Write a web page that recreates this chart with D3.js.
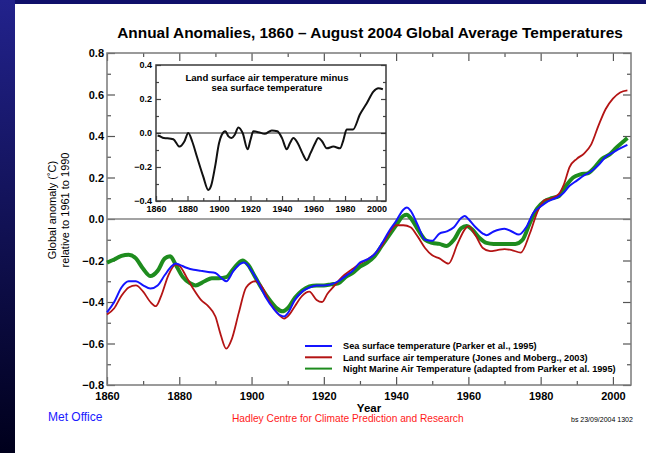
<!DOCTYPE html>
<html>
<head>
<meta charset="utf-8">
<script src="https://cdn.jsdelivr.net/npm/d3@7"></script>
<style>
body { margin: 0; background: #fff; }
svg { display: block; font-family: "Liberation Sans", Arial, sans-serif; }
</style>
</head>
<body>
<svg id="chart" width="646" height="453"></svg>
<script>
// Data ------------------------------------------------------------------------------------

// Sea surface temperature (Parker et al., 1995)
var sstYears = [1860, 1862, 1864, 1866, 1868, 1870, 1872, 1874, 1876, 1878, 1879, 1880, 1882, 1884, 1886, 1888,
    1890, 1892, 1893, 1895, 1897, 1898, 1900, 1902, 1904, 1906, 1908, 1909, 1910, 1912, 1914, 1916, 1918, 1920,
    1922, 1924, 1926, 1928, 1930, 1932, 1934, 1936, 1938, 1940, 1942, 1943, 1944, 1946, 1948, 1950, 1952, 1954,
    1956, 1958, 1959, 1960, 1962, 1964, 1965, 1967, 1970, 1972, 1974, 1976, 1978, 1980, 1982, 1984, 1986, 1988,
    1990, 1992, 1994, 1996, 1998, 2000, 2002, 2004];
var sstValues = [-0.45, -0.40, -0.33, -0.30, -0.30, -0.32, -0.335, -0.32, -0.27, -0.225, -0.215, -0.22, -0.235, -0.245, -0.25, -0.255,
    -0.26, -0.29, -0.30, -0.25, -0.215, -0.21, -0.25, -0.31, -0.38, -0.43, -0.465, -0.47, -0.455, -0.39, -0.35, -0.33, -0.32, -0.32,
    -0.315, -0.30, -0.275, -0.25, -0.21, -0.195, -0.17, -0.12, -0.06, -0.01, 0.045, 0.055, 0.04, -0.03, -0.10, -0.105, -0.07, -0.06,
    -0.04, 0.005, 0.015, 0.0, -0.04, -0.07, -0.078, -0.06, -0.047, -0.06, -0.075, -0.04, 0.03, 0.06, 0.085, 0.10, 0.12, 0.16,
    0.185, 0.21, 0.23, 0.26, 0.30, 0.32, 0.34, 0.357];

// Land surface air temperature (Jones and Moberg, 2003)
var landYears = [1860, 1862, 1864, 1866, 1868, 1870, 1872, 1873.5, 1875, 1877, 1879, 1880, 1882, 1884, 1886, 1888,
    1890, 1891.5, 1893, 1894.5, 1896.5, 1898.5, 1901, 1903, 1905, 1907, 1909, 1910.5, 1912, 1914, 1916, 1918,
    1919.5, 1921, 1923, 1925, 1928, 1930, 1932, 1934, 1936, 1938, 1940, 1942, 1944, 1946, 1948, 1950, 1952,
    1954.5, 1957, 1959, 1960, 1962, 1964, 1966, 1968, 1970, 1972, 1974.5, 1977, 1979, 1981, 1983, 1985, 1986.5,
    1988, 1990, 1992, 1994, 1996, 1998, 2000, 2002, 2004];
var landValues = [-0.46, -0.43, -0.37, -0.33, -0.32, -0.35, -0.40, -0.42, -0.37, -0.27, -0.22, -0.225, -0.28, -0.34, -0.39, -0.42,
    -0.47, -0.56, -0.625, -0.58, -0.45, -0.33, -0.30, -0.33, -0.40, -0.45, -0.48, -0.46, -0.42, -0.37, -0.35, -0.39,
    -0.40, -0.36, -0.32, -0.28, -0.24, -0.215, -0.195, -0.17, -0.13, -0.07, -0.03, -0.03, -0.04, -0.085, -0.14, -0.175, -0.19,
    -0.215, -0.12, -0.05, -0.034, -0.08, -0.14, -0.155, -0.15, -0.145, -0.15, -0.162, -0.07, 0.03, 0.09, 0.10, 0.12, 0.17,
    0.25, 0.29, 0.315, 0.36, 0.45, 0.53, 0.58, 0.61, 0.62];

// Night Marine Air Temperature (adapted from Parker et al. 1995)
var nmatYears = [1860, 1862, 1864, 1866, 1868, 1870, 1872, 1874, 1876, 1877.5, 1879, 1881, 1883, 1884.5, 1887, 1889,
    1891, 1893, 1895, 1897.5, 1899, 1901, 1903, 1905, 1907, 1908.5, 1910, 1912, 1914, 1916, 1918, 1920, 1922,
    1924, 1926, 1928, 1930, 1932, 1934, 1936, 1938, 1940, 1942, 1943, 1944, 1946, 1948, 1950, 1952, 1954, 1956,
    1958, 1959.5, 1961, 1963, 1965, 1967, 1969, 1971, 1973, 1975, 1977, 1979, 1981, 1983, 1985, 1987, 1989,
    1991, 1993, 1995, 1997, 1999, 2001, 2003, 2004];
var nmatValues = [-0.21, -0.195, -0.178, -0.172, -0.19, -0.24, -0.275, -0.25, -0.19, -0.18, -0.22, -0.28, -0.31, -0.32, -0.30, -0.285,
    -0.285, -0.28, -0.24, -0.20, -0.22, -0.28, -0.34, -0.39, -0.43, -0.445, -0.43, -0.38, -0.345, -0.325, -0.32, -0.32, -0.315,
    -0.31, -0.28, -0.26, -0.23, -0.21, -0.18, -0.13, -0.08, -0.03, 0.015, 0.02, 0.005, -0.05, -0.10, -0.115, -0.12, -0.13, -0.10,
    -0.045, -0.034, -0.05, -0.09, -0.115, -0.12, -0.12, -0.12, -0.12, -0.10, -0.02, 0.05, 0.085, 0.10, 0.11, 0.16, 0.20,
    0.215, 0.22, 0.25, 0.29, 0.31, 0.345, 0.375, 0.39];

// Inset: land surface air temperature minus sea surface temperature
var diffYears = [1861, 1862, 1865, 1867, 1871, 1875, 1878, 1880.5, 1883, 1886, 1890, 1893.2, 1895, 1897.5, 1900, 1901.7,
    1904, 1906, 1908, 1910, 1912.3, 1915, 1918.2, 1920, 1921.8, 1925, 1929, 1933.5, 1937, 1940, 1943, 1945, 1947.2,
    1950, 1953, 1955.7, 1958, 1961, 1963, 1965.5, 1968.4, 1972.6, 1976.8, 1979, 1981, 1985, 1989.5, 1993.8, 1998,
    2001.1, 2004];
var diffValues = [-0.015, -0.018, -0.03, -0.031, -0.037, -0.08, -0.05, 0.0, -0.05, -0.14, -0.257, -0.335, -0.31, -0.198, -0.06, -0.012,
    0.01, -0.02, -0.03, -0.01, 0.033, 0.0, -0.096, -0.04, 0.01, 0.005, -0.005, 0.015, 0.01, -0.03, -0.096, -0.06, -0.03,
    -0.06, -0.12, -0.16, -0.12, -0.06, -0.03, -0.05, -0.09, -0.08, -0.09, -0.04, 0.02, 0.02, 0.11, 0.175, 0.243,
    0.263, 0.257];

// Ticks
var mainYearTicks = [1860, 1880, 1900, 1920, 1940, 1960, 1980, 2000];
var mainYearMinor = [1870, 1890, 1910, 1930, 1950, 1970, 1990];
var mainValueTicks = [-0.8, -0.6, -0.4, -0.2, 0.0, 0.2, 0.4, 0.6, 0.8];
var mainValueMinor = [-0.7, -0.5, -0.3, -0.1, 0.1, 0.3, 0.5, 0.7];
var insetYearTicks = [1860, 1880, 1900, 1920, 1940, 1960, 1980, 2000];
var insetYearMinor = [1870, 1890, 1910, 1930, 1950, 1970, 1990];
var insetValueTicks = [-0.4, -0.2, 0.0, 0.2, 0.4];
var insetValueMinor = [-0.3, -0.1, 0.1, 0.3];

// Legend
var legendLabels = ["Sea surface temperature (Parker et al., 1995)",
    "Land surface air temperature (Jones and Moberg., 2003)",
    "Night Marine Air Temperature (adapted from Parker et al. 1995)"];
var legendColors = ["#1414ff", "#b41414", "#1e8c1e"];

// Main -----------------------------------------------------------------------------------

drawChart();

function drawChart() {
    var svg = d3.select("#chart");
    drawBackground(svg);
    drawMainPlot(svg);
    drawInset(svg);
    drawLegend(svg);
    drawTexts(svg);
}

function zip(years, values) {
    var pts = [];
    for (var i = 0; i < years.length; i++) {
        pts.push({ year: years[i], value: values[i] });
    }
    return pts;
}

// Background ------------------------------------------------------------------------------

function drawBackground(svg) {
    var defs = svg.append("defs");
    var grad = defs.append("linearGradient").attr("id", "sideGrad")
        .attr("x1", 0).attr("y1", 0).attr("x2", 0).attr("y2", 1);
    grad.append("stop").attr("offset", "0%").attr("stop-color", "#22228c");
    grad.append("stop").attr("offset", "100%").attr("stop-color", "#00001c");

    svg.append("rect").attr("x", 0).attr("y", 0).attr("width", 646).attr("height", 453).attr("fill", "#fff");
    svg.append("rect").attr("x", 0).attr("y", 0).attr("width", 646).attr("height", 4).attr("fill", "#10106a");
    svg.append("rect").attr("x", 0).attr("y", 0).attr("width", 15).attr("height", 453).attr("fill", "url(#sideGrad)");
}

// Axis helper -----------------------------------------------------------------------------

function styleAxis(g, color) {
    g.select(".domain").remove();
    g.selectAll(".tick line").attr("stroke", color).attr("stroke-width", 1.2);
    g.selectAll(".tick text").attr("fill", "#000");
}

// Main plot -------------------------------------------------------------------------------

function drawMainPlot(svg) {
    var x = d3.scaleLinear().domain([1860, 2005]).range([107, 631]);
    var y = d3.scaleLinear().domain([-0.8, 0.8]).range([385, 53]);
    var tickColor = "#555";

    var bottom = svg.append("g").attr("transform", "translate(0,385)")
        .style("font", "bold 11px 'Liberation Sans', Arial, sans-serif")
        .call(d3.axisBottom(x).tickValues(mainYearTicks).tickSize(-8).tickPadding(7).tickFormat(d3.format("d")));
    styleAxis(bottom, tickColor);
    var bottomMinor = svg.append("g").attr("transform", "translate(0,385)")
        .call(d3.axisBottom(x).tickValues(mainYearMinor).tickSize(-4).tickFormat(""));
    styleAxis(bottomMinor, tickColor);

    var top = svg.append("g").attr("transform", "translate(0,53)")
        .call(d3.axisTop(x).tickValues(mainYearTicks).tickSize(-8).tickFormat(""));
    styleAxis(top, tickColor);
    var topMinor = svg.append("g").attr("transform", "translate(0,53)")
        .call(d3.axisTop(x).tickValues(mainYearMinor).tickSize(-4).tickFormat(""));
    styleAxis(topMinor, tickColor);

    var left = svg.append("g").attr("transform", "translate(107,0)")
        .style("font", "bold 11px 'Liberation Sans', Arial, sans-serif")
        .call(d3.axisLeft(y).tickValues(mainValueTicks).tickSize(-8).tickPadding(3).tickFormat(d3.format(".1f")));
    styleAxis(left, tickColor);
    var leftMinor = svg.append("g").attr("transform", "translate(107,0)")
        .call(d3.axisLeft(y).tickValues(mainValueMinor).tickSize(-4).tickFormat(""));
    styleAxis(leftMinor, tickColor);

    var right = svg.append("g").attr("transform", "translate(631,0)")
        .call(d3.axisRight(y).tickValues(mainValueTicks).tickSize(-8).tickFormat(""));
    styleAxis(right, tickColor);
    var rightMinor = svg.append("g").attr("transform", "translate(631,0)")
        .call(d3.axisRight(y).tickValues(mainValueMinor).tickSize(-4).tickFormat(""));
    styleAxis(rightMinor, tickColor);

    // frame
    svg.append("rect").attr("x", 107).attr("y", 53).attr("width", 524).attr("height", 332)
        .attr("fill", "none").attr("stroke", "#7a7a7a").attr("stroke-width", 1.5);

    // zero line
    svg.append("line").attr("x1", 107).attr("x2", 631).attr("y1", y(0)).attr("y2", y(0))
        .attr("stroke", "#858585").attr("stroke-width", 1.5);

    var line = d3.line()
        .x(function (d) { return x(d.year); })
        .y(function (d) { return y(d.value); })
        .curve(d3.curveMonotoneX);

    svg.append("path").datum(zip(nmatYears, nmatValues)).attr("d", line)
        .attr("fill", "none").attr("stroke", legendColors[2]).attr("stroke-width", 4);
    svg.append("path").datum(zip(landYears, landValues)).attr("d", line)
        .attr("fill", "none").attr("stroke", legendColors[1]).attr("stroke-width", 1.8);
    svg.append("path").datum(zip(sstYears, sstValues)).attr("d", line)
        .attr("fill", "none").attr("stroke", legendColors[0]).attr("stroke-width", 2);
}

// Inset ------------------------------------------------------------------------------------

function drawInset(svg) {
    var x = d3.scaleLinear().domain([1860, 2006]).range([156, 386]);
    var y = d3.scaleLinear().domain([-0.4, 0.4]).range([201, 65]);
    var tickColor = "#444";
    var font = "bold 9px 'Liberation Sans', Arial, sans-serif";

    var bottom = svg.append("g").attr("transform", "translate(0,201)").style("font", font)
        .call(d3.axisBottom(x).tickValues(insetYearTicks).tickSize(-5).tickPadding(5).tickFormat(d3.format("d")));
    styleAxis(bottom, tickColor);
    var bottomMinor = svg.append("g").attr("transform", "translate(0,201)")
        .call(d3.axisBottom(x).tickValues(insetYearMinor).tickSize(-3).tickFormat(""));
    styleAxis(bottomMinor, tickColor);

    var left = svg.append("g").attr("transform", "translate(156,0)").style("font", font)
        .call(d3.axisLeft(y).tickValues(insetValueTicks).tickSize(-5).tickPadding(4).tickFormat(d3.format(".1f")));
    styleAxis(left, tickColor);
    var leftMinor = svg.append("g").attr("transform", "translate(156,0)")
        .call(d3.axisLeft(y).tickValues(insetValueMinor).tickSize(-3).tickFormat(""));
    styleAxis(leftMinor, tickColor);

    var right = svg.append("g").attr("transform", "translate(386,0)")
        .call(d3.axisRight(y).tickValues(insetValueTicks).tickSize(-5).tickFormat(""));
    styleAxis(right, tickColor);
    var rightMinor = svg.append("g").attr("transform", "translate(386,0)")
        .call(d3.axisRight(y).tickValues(insetValueMinor).tickSize(-3).tickFormat(""));
    styleAxis(rightMinor, tickColor);

    svg.append("rect").attr("x", 156).attr("y", 65).attr("width", 230).attr("height", 136)
        .attr("fill", "none").attr("stroke", "#3a3a3a").attr("stroke-width", 1.5);

    svg.append("line").attr("x1", 156).attr("x2", 386).attr("y1", y(0)).attr("y2", y(0))
        .attr("stroke", "#222").attr("stroke-width", 1);

    var line = d3.line()
        .x(function (d) { return x(d.year); })
        .y(function (d) { return y(d.value); })
        .curve(d3.curveMonotoneX);

    svg.append("path").datum(zip(diffYears, diffValues)).attr("d", line)
        .attr("fill", "none").attr("stroke", "#111").attr("stroke-width", 2);

    var title = svg.append("text").attr("x", 267).attr("y", 81).attr("text-anchor", "middle")
        .style("font", "bold 9.6px 'Liberation Sans', Arial, sans-serif").attr("fill", "#000");
    title.append("tspan").attr("x", 267).text("Land surface air temperature minus");
    title.append("tspan").attr("x", 267).attr("dy", 10.2).text("sea surface temperature");
}

// Legend ------------------------------------------------------------------------------------

function drawLegend(svg) {
    var rows = svg.append("g").selectAll("g")
        .data(legendLabels)
        .enter()
        .append("g")
        .attr("transform", function (d, i) { return "translate(305," + (346 + i * 11.3) + ")"; });

    rows.append("line").attr("x1", 0).attr("x2", 27).attr("y1", 0).attr("y2", 0)
        .attr("stroke", function (d, i) { return legendColors[i]; })
        .attr("stroke-width", 2);

    rows.append("text").attr("x", 38).attr("y", 3.4)
        .style("font", "bold 9.2px 'Liberation Sans', Arial, sans-serif")
        .attr("fill", "#000")
        .text(function (d) { return d; });
}

// Texts -------------------------------------------------------------------------------------

function drawTexts(svg) {
    svg.append("text").attr("x", 370).attr("y", 37.5).attr("text-anchor", "middle")
        .style("font", "bold 15.4px 'Liberation Sans', Arial, sans-serif")
        .text("Annual Anomalies, 1860 \u2013 August 2004 Global Average Temperatures");

    var yTitle = svg.append("text").attr("transform", "translate(56,210) rotate(-90)")
        .attr("text-anchor", "middle")
        .style("font", "11px 'Liberation Sans', Arial, sans-serif");
    yTitle.append("tspan").attr("x", 0).attr("y", 0).text("Global anomaly (\u02daC)");
    yTitle.append("tspan").attr("x", 0).attr("y", 13).text("relative to 1961 to 1990");

    svg.append("text").attr("x", 369).attr("y", 411.5).attr("text-anchor", "middle")
        .style("font", "bold 11.5px 'Liberation Sans', Arial, sans-serif")
        .text("Year");

    svg.append("text").attr("x", 48).attr("y", 421).attr("fill", "#1a1aff")
        .style("font", "12px 'Liberation Sans', Arial, sans-serif")
        .text("Met Office");

    svg.append("text").attr("x", 232).attr("y", 422).attr("fill", "#ff1a1a")
        .style("font", "10.2px 'Liberation Sans', Arial, sans-serif")
        .text("Hadley Centre for Climate Prediction and Research");

    svg.append("text").attr("x", 571).attr("y", 422).attr("fill", "#000")
        .style("font", "7px 'Liberation Sans', Arial, sans-serif")
        .text("bs  23/09/2004  1302");
}
</script>
</body>
</html>
